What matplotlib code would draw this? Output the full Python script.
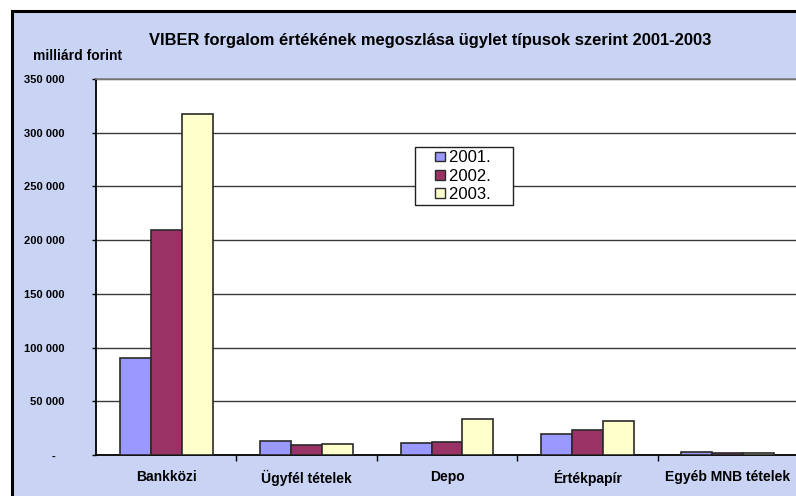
import numpy as np
import matplotlib.pyplot as plt
from matplotlib.patches import Rectangle
from matplotlib.legend_handler import HandlerPatch

plt.rcParams['font.family'] = ['Liberation Sans', 'DejaVu Sans']

# data (milliard forint)
categories = ['Bankközi', 'Ügyfél tételek', 'Depo', 'Értékpapír', 'Egyéb MNB tételek']
years = ['2001.', '2002.', '2003.']
v2001 = [90000, 13300, 11500, 19300, 2500]
v2002 = [209000, 9300, 12400, 23000, 1600]
v2003 = [317000, 10000, 33200, 31700, 2100]
yticks = [0, 50000, 100000, 150000, 200000, 250000, 300000, 350000]
ytick_labels = ['-   ', '50 000', '100 000', '150 000', '200 000', '250 000', '300 000', '350 000']

colors = ['#9999FF', '#993366', '#FFFFCC']
bg = '#C9D3F3'

fig = plt.figure(figsize=(7.96, 4.96), dpi=100)
fig.patch.set_facecolor('white')

# chart frame with bluish background
frame = Rectangle((12 / 796, -0.05), 1.0, 1 - 11 / 496 + 0.05, transform=fig.transFigure,
                  facecolor=bg, edgecolor='black', linewidth=2.2, zorder=-5)
fig.patches.append(frame)

ax = fig.add_axes([96 / 796, 41 / 496, 702 / 796, 376 / 496])
ax.set_facecolor('white')

x = np.arange(len(categories))
w = 0.22
for i, vals in enumerate([v2001, v2002, v2003]):
    ax.bar(x + (i - 1) * w, vals, width=w, color=colors[i], edgecolor='#2a2a2a',
           linewidth=1.2, zorder=3)

ax.set_xlim(-0.5, len(categories) - 0.5)
ax.set_ylim(0, 350000)
ax.set_yticks(yticks)
ax.set_yticklabels(ytick_labels, fontsize=8, fontweight='bold')
ax.yaxis.grid(True, color='#3a3a3a', linewidth=1, zorder=1)
ax.set_axisbelow(True)
ax.tick_params(axis='y', direction='out', length=3, width=1, pad=19.5)

ax.set_xticks(x)
ax.set_xticklabels(categories, fontsize=10, fontweight='bold')
ax.tick_params(axis='x', length=0, pad=10.5)
ax.set_xticks(np.arange(0.5, len(categories) - 0.5, 1), minor=True)
ax.tick_params(axis='x', which='minor', direction='out', length=4, width=1)

ax.spines['right'].set_visible(False)
ax.spines['top'].set_color('#808080')
ax.spines['top'].set_linewidth(1.2)
ax.spines['left'].set_linewidth(1.3)
ax.spines['bottom'].set_linewidth(1.3)


# small square key drawn at the right end of a wider handle slot
def square_key(legend, orig_handle, xdescent, ydescent, width, height, fontsize):
    s = height * 0.85
    return Rectangle((width - s - xdescent, -ydescent + (height - s) / 2), s, s)


proxies = [Rectangle((0, 0), 1, 1, facecolor=c, edgecolor='#2a2a2a', linewidth=1)
           for c in colors]
labels = [y + '    ' for y in years]
leg = ax.legend(proxies, labels, loc='upper left', bbox_to_anchor=(415 / 796, 1 - 147 / 496),
                bbox_transform=fig.transFigure, fontsize=12, frameon=True,
                fancybox=False, handlelength=1.6, handleheight=0.7,
                handletextpad=0.24, borderpad=0.2, labelspacing=0.2, borderaxespad=0,
                handler_map={Rectangle: HandlerPatch(patch_func=square_key)})
leg.get_frame().set_edgecolor('#222222')
leg.get_frame().set_linewidth(1)
leg.get_frame().set_alpha(1)

fig.text(430 / 796, 1 - 40 / 496, 'VIBER forgalom értékének megoszlása ügylet típusok szerint 2001-2003',
         ha='center', va='center', fontsize=11.9, fontweight='bold')
fig.text(33 / 796, 1 - 56 / 496, 'milliárd forint', ha='left', va='center',
         fontsize=10, fontweight='bold')

fig.savefig('out.png', dpi=100)
